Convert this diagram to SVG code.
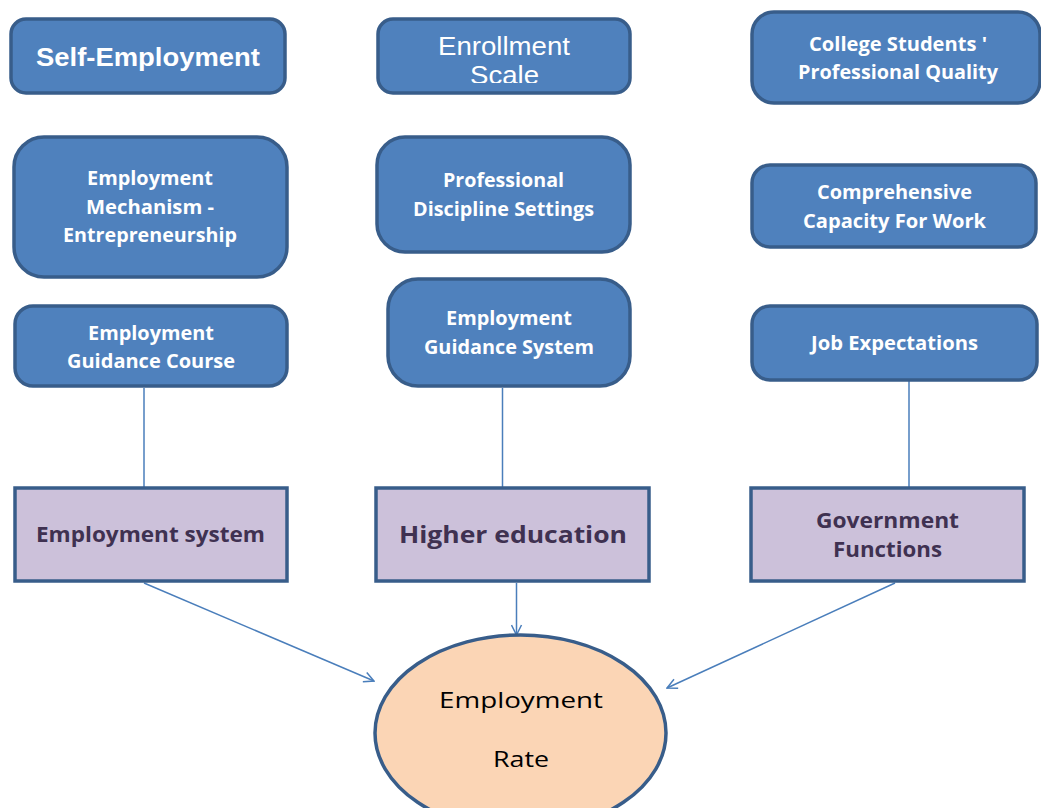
<svg xmlns="http://www.w3.org/2000/svg" width="1041" height="808" viewBox="0 0 1041 808">
<style>
.blue{fill:#4F81BD;stroke:#385D8A;stroke-width:3.5}
.purple{fill:#CCC1DA;stroke:#385D8A;stroke-width:3.5}
.oval{fill:#FBD5B5;stroke:#385D8A;stroke-width:3.5}
.wt{fill:#FFFFFF;font-family:"Open Sans","DejaVu Sans",sans-serif;font-weight:bold;font-size:19.5px}
.wa{fill:#FFFFFF;font-family:"Liberation Sans",Arial,sans-serif;font-size:25px}
.pt{fill:#3F3151;font-family:"Open Sans","DejaVu Sans",sans-serif;font-weight:bold;font-size:20.5px}
.et{fill:#000000;font-family:"Open Sans","DejaVu Sans",sans-serif;font-size:21px}
.conn{stroke:#4A7EBB;stroke-width:1.5;fill:none}
</style>
<defs>
<marker id="arr" viewBox="0 0 12 12" refX="11" refY="6" markerWidth="12" markerHeight="12" markerUnits="userSpaceOnUse" orient="auto">
<path d="M1,1 L11,6 L1,11" fill="none" stroke="#4A7EBB" stroke-width="1.5"/>
</marker>
<clipPath id="enrClip"><rect x="378" y="19" width="252" height="64"/></clipPath>
</defs>
<rect width="1041" height="808" fill="#FFFFFF"/>
<g id="connectors">
<line class="conn" x1="144" y1="388" x2="144" y2="488"/>
<line class="conn" x1="502.5" y1="388" x2="502.5" y2="494"/>
<line class="conn" x1="909" y1="380" x2="909" y2="488"/>
<line class="conn" x1="144" y1="583" x2="374" y2="681" marker-end="url(#arr)"/>
<line class="conn" x1="516.5" y1="583" x2="516.5" y2="635" marker-end="url(#arr)"/>
<line class="conn" x1="895" y1="583" x2="667" y2="688" marker-end="url(#arr)"/>
</g>
<g id="self-employment">
<rect class="blue" x="11" y="19" width="274" height="74" rx="15"/>
<text class="wa" font-weight="bold" x="36" y="66" textLength="224" lengthAdjust="spacingAndGlyphs">Self-Employment</text>
</g>
<g id="enrollment-scale">
<rect class="blue" x="378" y="19" width="252" height="74" rx="15"/>
<g clip-path="url(#enrClip)">
<text class="wa" x="438" y="55" textLength="132" lengthAdjust="spacingAndGlyphs">Enrollment</text>
<text class="wa" x="470" y="84" textLength="69" lengthAdjust="spacingAndGlyphs">Scale</text>
</g>
</g>
<g id="college-students">
<rect class="blue" x="752" y="12" width="288" height="91" rx="22"/>
<text class="wt" x="809" y="51" textLength="178" lengthAdjust="spacingAndGlyphs">College Students '</text>
<text class="wt" x="798" y="79" textLength="200" lengthAdjust="spacingAndGlyphs">Professional Quality</text>
</g>
<g id="employment-mechanism">
<rect class="blue" x="14" y="137" width="273" height="140" rx="30"/>
<text class="wt" x="87" y="185" textLength="126" lengthAdjust="spacingAndGlyphs">Employment</text>
<text class="wt" x="86" y="214" textLength="128" lengthAdjust="spacingAndGlyphs">Mechanism -</text>
<text class="wt" x="63" y="242" textLength="174" lengthAdjust="spacingAndGlyphs">Entrepreneurship</text>
</g>
<g id="professional-discipline">
<rect class="blue" x="377" y="137" width="253" height="115" rx="28"/>
<text class="wt" x="443" y="187" textLength="121" lengthAdjust="spacingAndGlyphs">Professional</text>
<text class="wt" x="413" y="216" textLength="181" lengthAdjust="spacingAndGlyphs">Discipline Settings</text>
</g>
<g id="comprehensive-capacity">
<rect class="blue" x="752" y="165" width="284" height="82" rx="18"/>
<text class="wt" x="817" y="199" textLength="155" lengthAdjust="spacingAndGlyphs">Comprehensive</text>
<text class="wt" x="803" y="228" textLength="183" lengthAdjust="spacingAndGlyphs">Capacity For Work</text>
</g>
<g id="guidance-course">
<rect class="blue" x="15" y="306" width="272" height="80" rx="18"/>
<text class="wt" x="88" y="340" textLength="126" lengthAdjust="spacingAndGlyphs">Employment</text>
<text class="wt" x="67" y="368" textLength="168" lengthAdjust="spacingAndGlyphs">Guidance Course</text>
</g>
<g id="guidance-system">
<rect class="blue" x="388" y="279" width="242" height="107" rx="30"/>
<text class="wt" x="446" y="325" textLength="126" lengthAdjust="spacingAndGlyphs">Employment</text>
<text class="wt" x="424" y="354" textLength="170" lengthAdjust="spacingAndGlyphs">Guidance System</text>
</g>
<g id="job-expectations">
<rect class="blue" x="752" y="306" width="285" height="74" rx="18"/>
<text class="wt" x="811" y="350" textLength="167" lengthAdjust="spacingAndGlyphs">Job Expectations</text>
</g>
<g id="employment-system">
<rect class="purple" x="15" y="488" width="272" height="93"/>
<text class="pt" x="36" y="542" textLength="229" lengthAdjust="spacingAndGlyphs">Employment system</text>
</g>
<g id="higher-education">
<rect class="purple" x="376" y="488" width="273" height="93"/>
<text class="pt" style="font-size:24px" x="399" y="543" textLength="228" lengthAdjust="spacingAndGlyphs">Higher education</text>
</g>
<g id="government-functions">
<rect class="purple" x="751" y="488" width="273" height="93"/>
<text class="pt" x="816" y="528" textLength="143" lengthAdjust="spacingAndGlyphs">Government</text>
<text class="pt" x="833" y="557" textLength="109" lengthAdjust="spacingAndGlyphs">Functions</text>
</g>
<g id="employment-rate">
<ellipse class="oval" cx="520.5" cy="733" rx="145.5" ry="98"/>
<text class="et" x="439" y="708" textLength="164" lengthAdjust="spacingAndGlyphs">Employment</text>
<text class="et" x="493" y="767" textLength="56" lengthAdjust="spacingAndGlyphs">Rate</text>
</g>
</svg>
